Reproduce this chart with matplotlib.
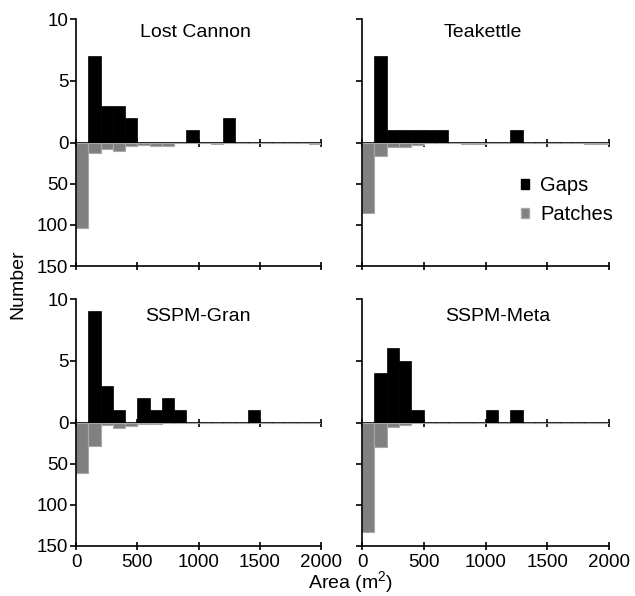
import matplotlib
matplotlib.use("Agg")
import matplotlib.pyplot as plt
from matplotlib.patches import Patch

plt.rcParams['font.family'] = ['Liberation Sans', 'DejaVu Sans']
plt.rcParams['mathtext.fontset'] = 'custom'
plt.rcParams['mathtext.rm'] = 'Liberation Sans'
plt.rcParams['mathtext.it'] = 'Liberation Sans'
plt.rcParams['font.size'] = 13.5

# ---- data ----
bin_starts = [0, 100, 200, 300, 400, 500, 600, 700, 800, 900,
              1000, 1100, 1200, 1300, 1400, 1500, 1600, 1700, 1800, 1900]
bin_width = 100

panel_names = ["Lost Cannon", "Teakettle", "SSPM-Gran", "SSPM-Meta"]

lost_cannon_gaps = [0, 7, 3, 3, 2, 0, 0, 0, 0, 1, 0, 0, 2, 0, 0, 0, 0, 0, 0, 0]
lost_cannon_patches = [104, 12, 8, 10, 4, 3, 4, 4, 0, 0, 0, 2, 0, 0, 0, 0, 0, 0, 0, 2]

teakettle_gaps = [0, 7, 1, 1, 1, 1, 1, 0, 0, 0, 0, 0, 1, 0, 0, 0, 0, 0, 0, 0]
teakettle_patches = [86, 16, 5, 5, 3, 0, 0, 0, 1, 1, 0, 0, 0, 0, 0, 0, 0, 0, 1, 1]

gran_gaps = [0, 9, 3, 1, 0, 2, 1, 2, 1, 0, 0, 0, 0, 0, 1, 0, 0, 0, 0, 0]
gran_patches = [61, 28, 3, 7, 4, 2, 2, 0, 0, 0, 0, 0, 0, 0, 0, 0, 0, 0, 0, 0]

meta_gaps = [0, 4, 6, 5, 1, 0, 0, 0, 0, 0, 1, 0, 1, 0, 0, 0, 0, 0, 0, 0]
meta_patches = [133, 30, 5, 3, 0, 0, 0, 0, 0, 0, 0, 0, 0, 0, 0, 0, 0, 0, 0, 0]

gaps_all = [lost_cannon_gaps, teakettle_gaps, gran_gaps, meta_gaps]
patches_all = [lost_cannon_patches, teakettle_patches, gran_patches, meta_patches]

x_ticks = [0, 500, 1000, 1500, 2000]
gap_ticks = [0, 5, 10]
patch_ticks = [50, 100, 150]

# ---- layout (pixels) ----
W, H = 635, 596
cols = [(76, 321), (362, 609)]
rows = [(19, 142.7, 266), (299, 422.7, 546)]
title_pos = [(0.486, 0.89), (0.49, 0.89), (0.497, 0.855), (0.55, 0.855)]

gap_color = "black"
patch_color = "#808080"
patch_edge = "#a8a8a8"
lw = 1.2
label_fs = 14
tick_fs = 13.5

fig = plt.figure(figsize=(W / 100, H / 100), dpi=100)

for i in range(4):
    r, c = divmod(i, 2)
    x0, x1 = cols[c]
    top, zero, bot = rows[r]
    ax_t = fig.add_axes([x0 / W, 1 - zero / H, (x1 - x0) / W, (zero - top) / H])
    ax_b = fig.add_axes([x0 / W, 1 - bot / H, (x1 - x0) / W, (bot - zero) / H])

    ax_b.bar(bin_starts, patches_all[i], width=bin_width, align='edge',
             color=patch_color, edgecolor=patch_edge, linewidth=0.8)
    ax_t.bar(bin_starts, gaps_all[i], width=bin_width, align='edge',
             color=gap_color, edgecolor=gap_color, linewidth=0.5)

    for ax in (ax_t, ax_b):
        ax.set_xlim(0, 2000)
        ax.spines['top'].set_visible(False)
        ax.spines['right'].set_visible(False)
        ax.spines['left'].set_linewidth(lw)
        ax.spines['bottom'].set_linewidth(lw)
        ax.set_xticks(x_ticks)
        ax.tick_params(axis='x', direction='inout', length=6, width=lw, pad=2.5,
                       labelsize=tick_fs)
        ax.tick_params(axis='y', direction='out', length=4, width=lw, pad=1.5,
                       labelsize=tick_fs)
        ax.patch.set_alpha(0)

    ax_t.set_ylim(0, 10)
    ax_t.set_yticks(gap_ticks)
    ax_t.tick_params(axis='x', labelbottom=False)
    ax_t.spines['bottom'].set_zorder(5)

    ax_b.set_ylim(150, 0)
    ax_b.set_yticks(patch_ticks)
    if r == 0:
        ax_b.tick_params(axis='x', labelbottom=False)
    if c == 1:
        ax_t.tick_params(axis='y', labelleft=False)
        ax_b.tick_params(axis='y', labelleft=False)

    tx, ty = title_pos[i]
    ax_t.text(tx, ty, panel_names[i], transform=ax_t.transAxes,
              ha='center', va='center', fontsize=label_fs)

    if i == 1:
        handles = [Patch(facecolor=gap_color, edgecolor=gap_color),
                   Patch(facecolor=patch_color, edgecolor=patch_edge)]
        ax_b.legend(handles, ["Gaps", "Patches"], frameon=False, fontsize=14.5,
                    loc='upper left', bbox_to_anchor=(521 / W, 1 - 176 / H),
                    bbox_transform=fig.transFigure, handlelength=0.4,
                    handleheight=0.4, handletextpad=0.55, labelspacing=0.5,
                    borderpad=0, borderaxespad=0)

fig.text(17.5 / W, 1 - 284 / H, "Number", rotation=90, ha='center', va='center',
         fontsize=label_fs)
fig.text(350 / W, 1 - 582 / H, "Area (m$^2$)", ha='center', va='center',
         fontsize=label_fs)

fig.savefig("out.png", dpi=100)
